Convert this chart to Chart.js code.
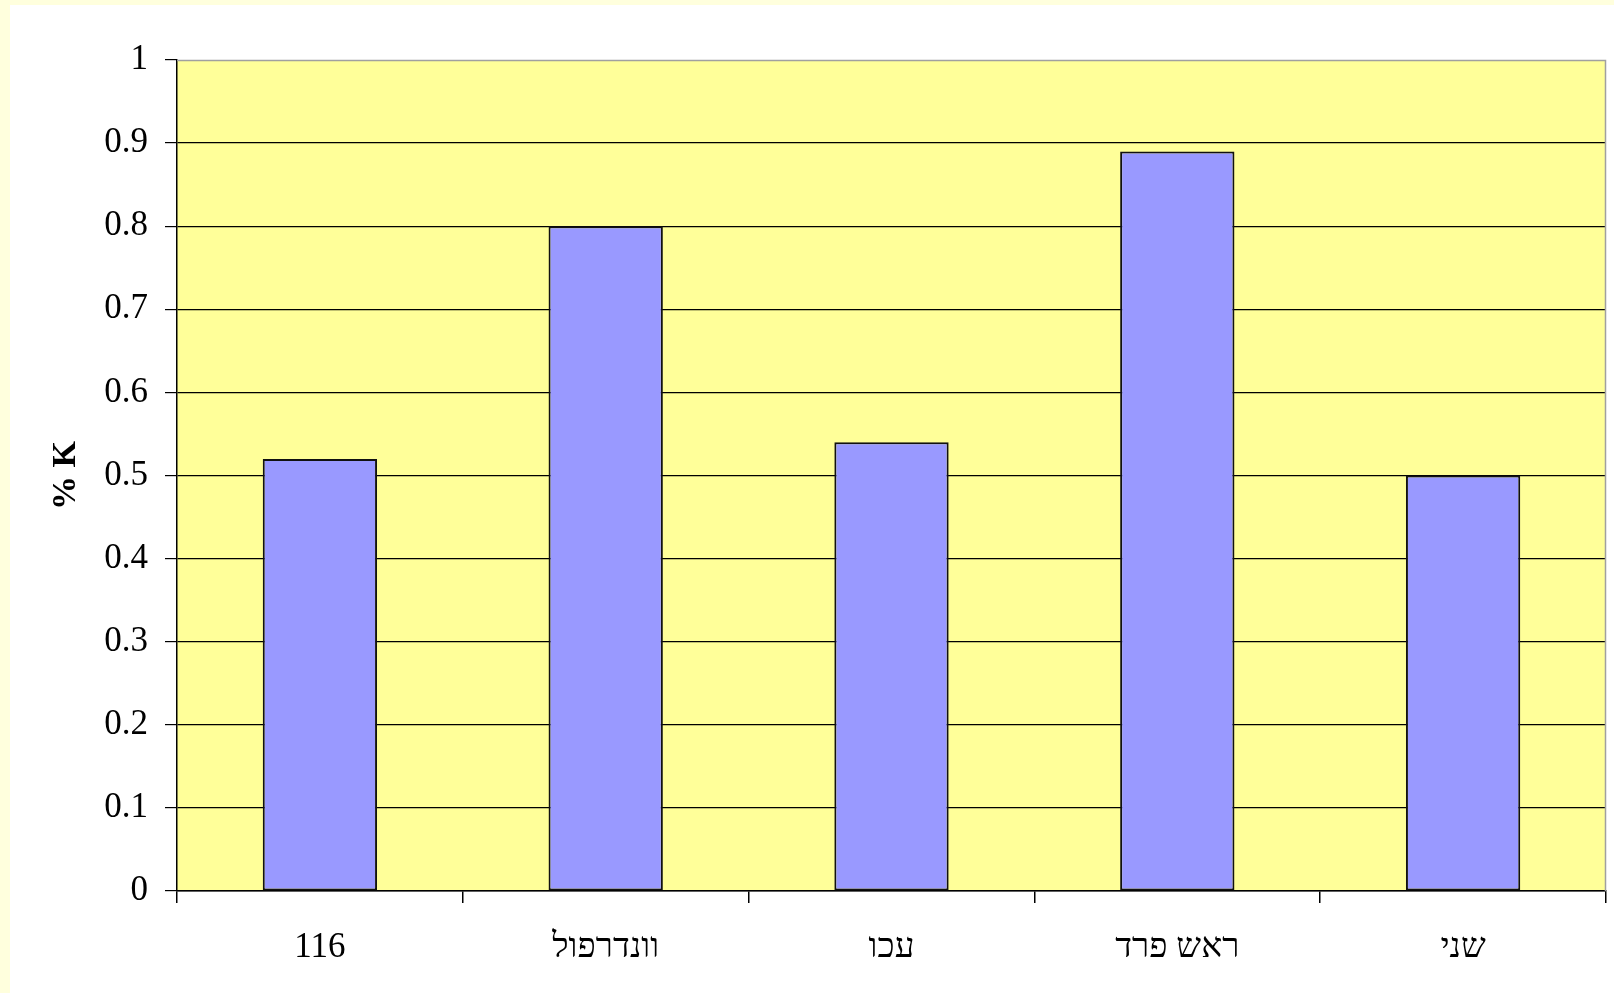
<!DOCTYPE html>
<html>
<head>
<meta charset="utf-8">
<script src="https://cdn.jsdelivr.net/npm/chart.js@4"></script>
<style>
  html, body { margin: 0; padding: 0; background: #FFFFDD; width: 1614px; height: 993px; overflow: hidden; }
  #wrap { position: absolute; left: 10px; top: 5px; width: 1604px; height: 988px; background: #FFFFFF; }
  canvas { display: block; }
</style>
</head>
<body>
<div id="wrap"><canvas id="c" width="1604" height="988"></canvas></div>
<script>
const categories = ["116", "וונדרפול", "עכו", "ראש פרד", "שני"];
const kPercent = [0.52, 0.80, 0.54, 0.89, 0.50];
const yTickLabels = ["0", "0.1", "0.2", "0.3", "0.4", "0.5", "0.6", "0.7", "0.8", "0.9", "1"];
const yTitle = "% K";

const plotBg = {
  id: 'plotBg',
  beforeDraw(chart) {
    const {ctx, chartArea: a} = chart;
    ctx.save();
    ctx.fillStyle = '#FFFF99';
    ctx.fillRect(a.left, a.top, a.right - a.left, a.bottom - a.top);
    ctx.restore();
  },
  afterDraw(chart) {
    const {ctx, chartArea: a} = chart;
    ctx.save();
    ctx.strokeStyle = '#A0A0A0';
    ctx.lineWidth = 1.5;
    ctx.beginPath();
    ctx.moveTo(a.left, a.top + 0.5);
    ctx.lineTo(a.right - 0.5, a.top + 0.5);
    ctx.lineTo(a.right - 0.5, a.bottom);
    ctx.stroke();
    ctx.restore();
  }
};

const font = "'Liberation Serif', 'Times New Roman', serif";

new Chart(document.getElementById('c'), {
  type: 'bar',
  data: {
    labels: categories,
    datasets: [{
      data: kPercent,
      backgroundColor: '#9999FF',
      borderColor: '#111111',
      borderWidth: 2,
      borderSkipped: false,
      categoryPercentage: 1.0,
      barPercentage: 0.4
    }]
  },
  options: {
    responsive: false,
    animation: false,
    layout: { padding: { left: 0, top: 55, right: 8, bottom: 0 } },
    plugins: { legend: { display: false }, tooltip: { enabled: false } },
    scales: {
      x: {
        afterFit(s) { s.height = 102; },
        grid: { display: true, drawOnChartArea: false, drawTicks: true, tickLength: 12, color: '#000', tickColor: '#000', offset: true, lineWidth: 1.5 },
        border: { display: true, color: '#000', width: 1.5 },
        ticks: { color: '#000', font: { family: font, size: 35 }, padding: 24, maxRotation: 0, autoSkip: false }
      },
      y: {
        min: 0, max: 1,
        afterFit(s) { s.width = 167; },
        afterBuildTicks(s) { s.ticks = yTickLabels.map((_, i) => ({ value: i / 10 })); },
        grid: {
          color: (c) => (c.tick && c.tick.value >= 0.999) ? 'rgba(0,0,0,0)' : '#000',
          tickColor: '#000', tickLength: 12, lineWidth: 1.2
        },
        border: { display: true, color: '#000', width: 1.5 },
        ticks: {
          color: '#000', font: { family: font, size: 35 }, padding: 17,
          callback: (v, i) => yTickLabels[i]
        },
        title: {
          display: true, text: yTitle, color: '#000',
          font: { family: font, size: 34, weight: 'bold' },
          padding: { top: 36, bottom: 0 }
        }
      }
    }
  },
  plugins: [plotBg]
});
</script>
</body>
</html>
